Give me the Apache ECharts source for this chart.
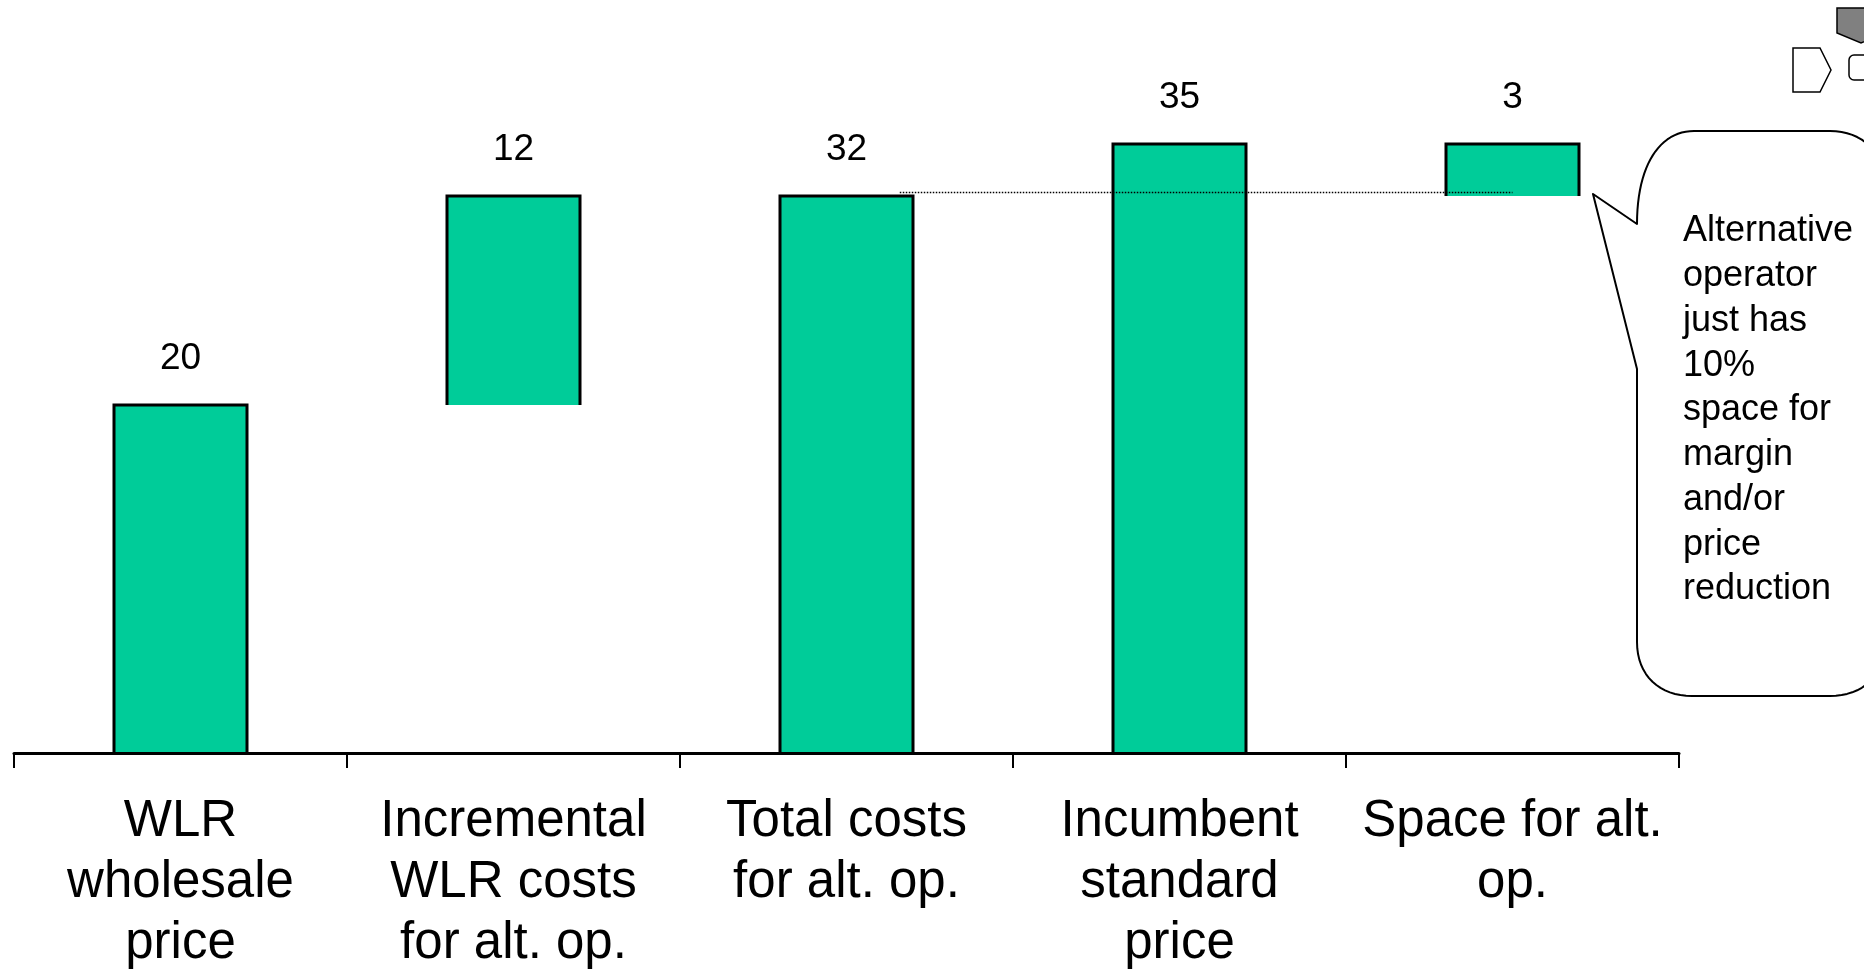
<!DOCTYPE html>
<html>
<head>
<meta charset="utf-8">
<script src="https://cdn.jsdelivr.net/npm/echarts@6/dist/echarts.min.js"></script>
<style>
  html, body { margin: 0; padding: 0; background: #ffffff; }
  #chart { width: 1864px; height: 974px; }
</style>
</head>
<body>
<div id="chart"></div>
<script>
// Waterfall of WLR costs vs incumbent price
const categories = [
  'WLR\nwholesale\nprice',
  'Incremental\nWLR costs\nfor alt. op.',
  'Total costs\nfor alt. op.',
  'Incumbent\nstandard\nprice',
  'Space for alt.\nop.'
];
const values = [20, 12, 32, 35, 3];
// level each bar starts from (floating bars sit on the previous total)
const bases = [0, 20, 0, 0, 32];

// dotted reference line at the total-cost level, from "Total costs" to "Space"
const refFrom = 2;
const refTo = 4;
const refLevel = 32;

const calloutLines = [
  'Alternative', 'operator', 'just has', '10%', 'space for',
  'margin', 'and/or', 'price', 'reduction'
];

const FONT = '"Liberation Sans", Arial, Helvetica, sans-serif';
const BAR_FILL = '#00CC99';

const chart = echarts.init(document.getElementById('chart'), null, { renderer: 'canvas' });

function renderBar(params, api) {
  const idx = api.value(0);
  const base = api.value(1);
  const val = api.value(2);
  const top = api.coord([idx, base + val]);
  const bottom = api.coord([idx, base]);
  const w = api.size([1, 0])[0] * 0.4;
  const x0 = Math.round(top[0] - w / 2);
  const x1 = Math.round(top[0] + w / 2);
  const yT = Math.round(top[1]);
  const yB = Math.round(bottom[1]);
  return {
    type: 'group',
    children: [
      {
        type: 'rect',
        shape: { x: x0, y: yT, width: x1 - x0, height: yB - yT },
        style: { fill: BAR_FILL }
      },
      {
        type: 'polyline',
        shape: { points: [[x0, yB], [x0, yT], [x1, yT], [x1, yB]] },
        style: { stroke: '#000000', lineWidth: 3, fill: null, lineJoin: 'miter' }
      },
      {
        type: 'text',
        x: top[0],
        y: yT - 46,
        style: {
          text: String(val),
          fill: '#000000',
          fontSize: 37,
          fontFamily: FONT,
          align: 'center',
          verticalAlign: 'middle'
        }
      }
    ]
  };
}

function renderRef(params, api) {
  const a = api.coord([api.value(0), api.value(2)]);
  const b = api.coord([api.value(1), api.value(2)]);
  const band = api.size([1, 0])[0];
  const y = Math.round(a[1]) - 3.5;
  return {
    type: 'line',
    shape: { x1: a[0] + band * 0.16, y1: y, x2: b[0], y2: y },
    style: { stroke: '#000000', lineWidth: 1.5, lineDash: [1.5, 1.5] },
    z2: 10
  };
}

// outline of the speech bubble: straight runs plus sampled cubic corners
function bubbleOutline() {
  const pts = [];
  function cubic(p0, p1, p2, p3, n) {
    for (let i = 1; i <= n; i++) {
      const t = i / n, u = 1 - t;
      pts.push([
        u * u * u * p0[0] + 3 * u * u * t * p1[0] + 3 * u * t * t * p2[0] + t * t * t * p3[0],
        u * u * u * p0[1] + 3 * u * u * t * p1[1] + 3 * u * t * t * p2[1] + t * t * t * p3[1]
      ]);
    }
  }
  pts.push([1593, 194], [1637, 224]);
  cubic([1637, 224], [1637, 165], [1660, 131], [1694, 131], 24);
  pts.push([1830, 131]);
  cubic([1830, 131], [1862, 131], [1886, 152], [1886, 190], 16);
  pts.push([1886, 640]);
  cubic([1886, 640], [1886, 676], [1862, 696], [1830, 696], 16);
  pts.push([1692, 696]);
  cubic([1692, 696], [1660, 696], [1637, 676], [1637, 642], 16);
  pts.push([1637, 369]);
  return pts;
}

const barData = categories.map((c, i) => [i, bases[i], values[i]]);

const option = {
  backgroundColor: '#ffffff',
  animation: false,
  grid: { left: 14, right: 185, top: 57, bottom: 218, containLabel: false },
  xAxis: {
    type: 'category',
    data: categories,
    z: 5,
    axisLine: { show: true, lineStyle: { color: '#000000', width: 3 } },
    axisTick: { show: true, interval: 0, length: 15, lineStyle: { color: '#000000', width: 2 } },
    axisLabel: {
      interval: 0,
      margin: 38,
      color: '#000000',
      fontSize: 51,
      lineHeight: 61,
      fontFamily: FONT,
      align: 'center'
    },
    splitLine: { show: false }
  },
  yAxis: { type: 'value', min: 0, max: 40, show: false },
  series: [
    {
      type: 'custom',
      renderItem: renderRef,
      data: [[refFrom, refTo, refLevel]],
      z: 4,
      silent: true
    },
    {
      type: 'custom',
      renderItem: renderBar,
      data: barData,
      z: 3,
      silent: true
    }
  ],
  graphic: [
    {
      type: 'polygon',
      shape: { points: bubbleOutline() },
      style: { fill: '#ffffff', stroke: '#000000', lineWidth: 2, lineJoin: 'round' },
      z: 10
    },
    {
      type: 'text',
      x: 1683,
      y: 209,
      style: {
        text: calloutLines.join('\n'),
        fill: '#000000',
        fontSize: 36,
        lineHeight: 44.75,
        fontFamily: FONT,
        align: 'left',
        verticalAlign: 'top'
      },
      z: 11
    },
    // small navigation symbols in the top-right corner
    {
      type: 'polygon',
      shape: { points: [[1837, 8], [1837, 33], [1861, 43], [1885, 33], [1885, 8]] },
      style: { fill: '#808080', stroke: '#000000', lineWidth: 1.5 },
      z: 10
    },
    {
      type: 'polygon',
      shape: { points: [[1793, 48], [1820, 48], [1831, 70], [1820, 92], [1793, 92]] },
      style: { fill: '#ffffff', stroke: '#000000', lineWidth: 1.5 },
      z: 10
    },
    {
      type: 'rect',
      shape: { x: 1849, y: 55, width: 30, height: 25, r: 5 },
      style: { fill: '#ffffff', stroke: '#000000', lineWidth: 1.5 },
      z: 10
    }
  ]
};

chart.setOption(option);
</script>
</body>
</html>
